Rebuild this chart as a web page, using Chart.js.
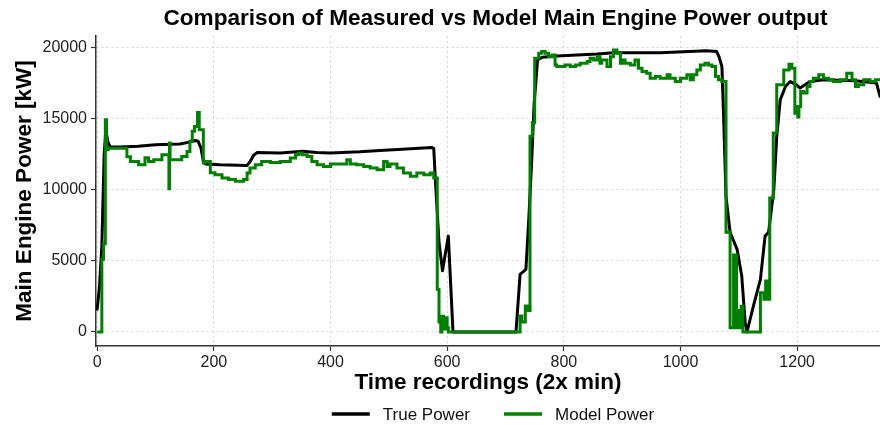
<!DOCTYPE html>
<html><head><meta charset="utf-8">
<script src="https://cdn.jsdelivr.net/npm/chart.js@4.4.1/dist/chart.umd.min.js"></script>
<style>html,body{margin:0;padding:0;background:#fff;}#wrap{width:880px;height:425px;}</style>
</head><body><div id="wrap"><canvas id="c" width="880" height="425"></canvas></div>
<script>
const titleText = "Comparison of Measured vs Model Main Engine Power output";
const xTitle = "Time recordings (2x min)";
const yTitle = "Main Engine Power [kW]";
const seriesNames = ["True Power", "Model Power"];
const seriesColors = ["#000000", "#008000"];
const xTicks = [0, 200, 400, 600, 800, 1000, 1200];
const yTicks = [0, 5000, 10000, 15000, 20000];

const trueX = [0,4,8,12,15,18,22,40,70,100,142,160,168,173,178,182,186,210,257,262,268,274,314,353,376,400,450,485,530,574,577,580,586,592,602,610,718,725,735,740,745,749,755,763,788,857,885,965,1045,1062,1066,1071,1074,1078,1085,1097,1105,1111,1114,1125,1137,1145,1151,1160,1165,1171,1180,1188,1199,1205,1222,1245,1300,1336,1342];
const trueY = [1600,3200,6000,12500,14200,13400,13000,13000,13050,13150,13200,13350,13450,13400,12900,12000,11800,11750,11700,11950,12400,12600,12570,12700,12600,12570,12650,12750,12850,12950,12900,10500,6300,4300,6730,0,0,4040,4390,8000,12100,16000,19110,19300,19390,19530,19620,19620,19760,19700,19340,18640,15000,9500,7000,5800,3920,600,0,1820,3690,6730,7000,10000,13740,16310,17240,17590,17360,17130,17590,17710,17650,17480,16540];

const modelX = [0,8,11,14,16,19,51,57,71,82,88,97,111,123,124,125,145,154,159,163,167,172,175,182,185,194,202,214,225,237,251,257,262,271,282,297,314,331,340,345,351,360,368,377,388,400,428,434,445,457,468,480,491,497,502,514,525,537,548,560,571,577,583,586,589,591,594,597,600,602,719,725,728,734,737,742,746,750,757,762,768,774,780,785,788,802,811,820,828,840,845,851,857,862,865,874,880,885,891,897,900,905,914,922,928,934,942,948,957,965,977,982,991,1000,1011,1017,1022,1028,1034,1042,1048,1054,1060,1065,1071,1078,1085,1091,1096,1100,1103,1104,1107,1137,1143,1146,1149,1153,1159,1165,1177,1186,1191,1196,1199,1201,1203,1206,1211,1217,1222,1228,1237,1245,1254,1262,1274,1285,1294,1300,1305,1314,1325,1334,1342];
const modelY = [0,5100,6200,14900,12800,12900,12300,11980,11750,12240,11980,12100,12450,10050,13280,12100,12330,12680,13390,14090,14440,15420,14200,11870,11980,11190,11050,10820,10700,10580,10700,11170,11520,11750,11980,11910,11980,12220,12450,12570,12450,12330,11980,11750,11630,11800,12100,11800,11750,11630,11520,11400,11980,11630,11800,11520,11170,10930,11170,11050,11170,10820,3000,700,0,1100,200,1000,300,0,0,1120,700,1820,1500,13740,14700,19220,19580,19700,19580,19340,19460,18760,18640,18760,18640,18760,18880,19000,19230,19110,19340,18880,19110,18640,19340,19810,19580,18880,19110,18880,18760,19110,18530,18290,18180,17830,17940,17830,18060,17830,17590,17830,18060,17710,18060,18410,18760,18880,18760,18640,17940,17710,17590,7000,300,5400,300,1500,300,1800,0,2760,2290,3570,2290,9400,13970,17360,18410,18810,18530,15370,15840,15100,15840,16890,16780,17240,17590,17830,18060,17830,17710,17590,17710,18180,17710,17240,17360,17710,17590,17710,17710];

const FONT = "'Liberation Sans', Arial, Helvetica, sans-serif";
Chart.defaults.font.family = FONT;

const toPts = (xs, ys) => xs.map((x, i) => ({x: x, y: ys[i]}));

const overlay = {
  id: 'overlay',
  afterDraw(chart) {
    const ctx = chart.ctx;
    ctx.save();
    ctx.fillStyle = '#000';
    ctx.font = "bold 22.6px " + FONT;
    ctx.textAlign = 'center';
    ctx.textBaseline = 'middle';
    ctx.fillText(titleText, 495.5, 19);
    ctx.font = "17px " + FONT;
    ctx.textAlign = 'left';
    const lineLen = 38, gapText = 13, gapItem = 34, ly = 414;
    const order = [1, 0];
    const items = order.map(i => chart.data.datasets[i]);
    const widths = items.map(d => ctx.measureText(d.label).width);
    let total = 0;
    widths.forEach((w, i) => { total += lineLen + gapText + w + (i < widths.length - 1 ? gapItem : 0); });
    let x = 493 - total / 2;
    items.forEach((d, i) => {
      ctx.strokeStyle = d.borderColor;
      ctx.lineWidth = 3.5;
      ctx.beginPath();
      ctx.moveTo(x, ly);
      ctx.lineTo(x + lineLen, ly);
      ctx.stroke();
      x += lineLen + gapText;
      ctx.fillStyle = '#111';
      ctx.fillText(d.label, x, ly + 1);
      x += widths[i] + gapItem;
    });
    ctx.restore();
  }
};

const plainTick = v => String(v);

new Chart(document.getElementById('c'), {
  type: 'line',
  data: {
    datasets: [
      { label: seriesNames[1], data: toPts(modelX, modelY), borderColor: seriesColors[1], backgroundColor: seriesColors[1],
        borderWidth: 3, pointRadius: 0, stepped: true, fill: false, order: 1 },
      { label: seriesNames[0], data: toPts(trueX, trueY), borderColor: seriesColors[0], backgroundColor: seriesColors[0],
        borderWidth: 3, pointRadius: 0, tension: 0, fill: false, borderJoinStyle: 'round', borderCapStyle: 'round', order: 2 }
    ]
  },
  options: {
    responsive: false,
    animation: false,
    devicePixelRatio: 1,
    layout: { padding: { top: 36, bottom: 29, left: 0, right: 0 } },
    plugins: { legend: { display: false }, title: { display: false }, tooltip: { enabled: false } },
    scales: {
      x: {
        type: 'linear', min: -2, max: 1342,
        afterBuildTicks: s => { s.ticks = xTicks.map(v => ({value: v})); },
        afterFit: s => { s.height = 50; },
        ticks: { font: { size: 16 }, color: '#222', padding: 2, maxRotation: 0, autoSkip: false, callback: plainTick },
        grid: { color: '#d6d6d6', lineWidth: 1, tickColor: '#333', tickLength: 5, tickWidth: 1.2 },
        border: { display: true, color: '#333', width: 1.5, dash: [2, 3] },
        title: { display: true, text: xTitle, color: '#000', font: { size: 22.5, weight: 'bold', lineHeight: 1.1 }, padding: { top: 0, bottom: 1 } }
      },
      y: {
        type: 'linear', min: -990, max: 20790,
        afterBuildTicks: s => { s.ticks = yTicks.map(v => ({value: v})); },
        afterFit: s => { s.width = 96; },
        ticks: { font: { size: 16 }, color: '#222', padding: 4, callback: plainTick },
        grid: { color: '#d6d6d6', lineWidth: 1, tickColor: '#333', tickLength: 5, tickWidth: 1.2 },
        border: { display: true, color: '#333', width: 1.5, dash: [2, 3] },
        title: { display: true, text: yTitle, color: '#000', font: { size: 22.5, weight: 'bold', lineHeight: 1.1 }, padding: { top: 12, bottom: 0 } }
      }
    }
  },
  plugins: [overlay]
});
</script>
</body></html>
